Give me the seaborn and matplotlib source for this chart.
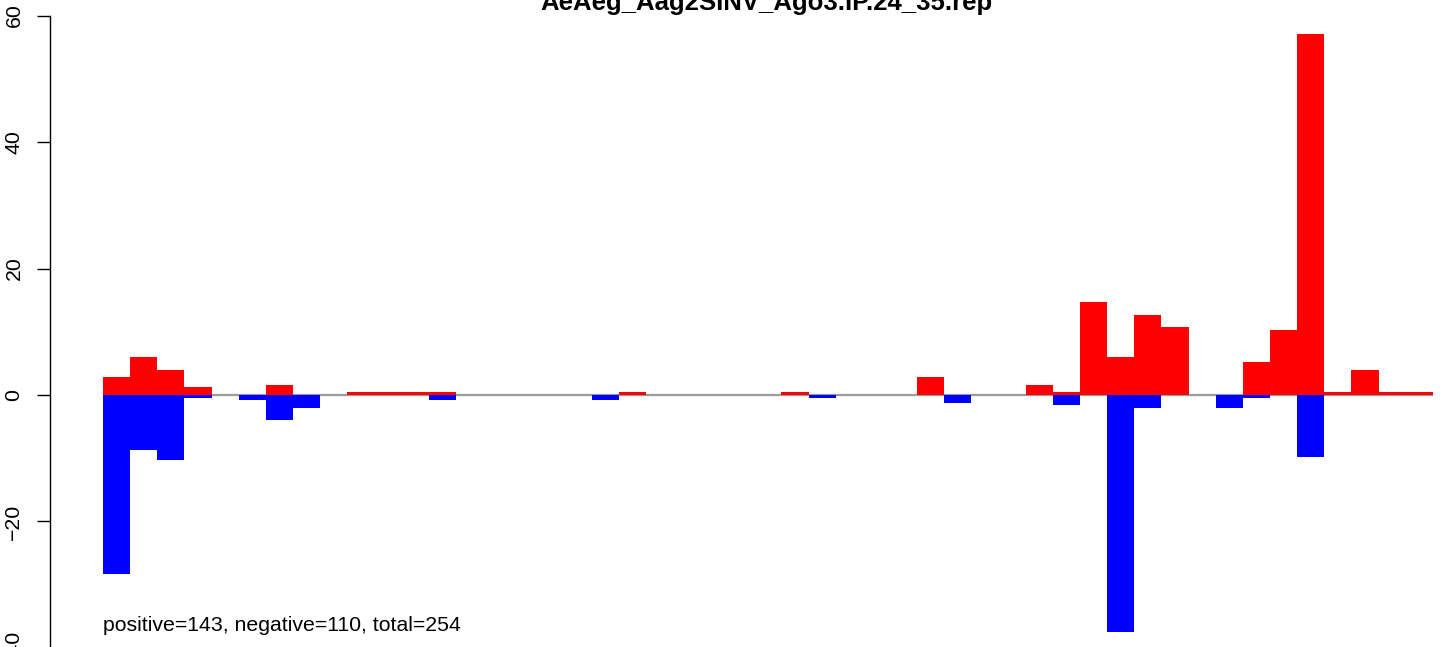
import pandas as pd
import matplotlib
matplotlib.use("Agg")
import matplotlib.pyplot as plt
import seaborn as sns

# per-position counts (one column per position)
title = "AeAeg_Aag2SINV_Ago3.IP.24_35.rep"
positions = list(range(49))
positive = [2.85, 6.0, 3.95, 1.26, 0, 0, 1.58, 0, 0, 0.45,
            0.45, 0.45, 0.45, 0, 0, 0, 0, 0, 0, 0.45,
            0, 0, 0, 0, 0, 0.45, 0, 0, 0, 0,
            2.85, 0, 0, 0, 1.58, 0.45, 14.7, 6.0, 12.65, 10.75,
            0, 0, 5.2, 10.3, 57.1, 0.45, 3.95, 0.45, 0.45]
negative = [-28.25, -8.7, -10.3, -0.5, 0, -0.8, -3.95, -2.05, 0, 0,
            0, 0, -0.8, 0, 0, 0, 0, 0, -0.8, 0,
            0, 0, 0, 0, 0, 0, -0.5, 0, 0, 0,
            0, -1.25, 0, 0, 0, -1.58, 0, -37.4, -2.05, 0,
            0, -2.05, -0.5, 0, -9.8, 0, 0, 0, 0]
yticks = [-40, -20, 0, 20, 40, 60]
ylabels = ["\u221240", "\u221220", "0", "20", "40", "60"]
note = "positive=143, negative=110, total=254"

df = pd.DataFrame({"pos": positions, "positive": positive, "negative": negative})

sns.set_style("ticks")
plt.rcParams["font.family"] = ["Liberation Sans", "DejaVu Sans"]
plt.rcParams["text.color"] = "black"
plt.rcParams["ytick.color"] = "black"
plt.rcParams["ytick.labelcolor"] = "black"

fig = plt.figure(figsize=(14.55, 6.47), dpi=100)
ax = fig.add_axes([0.03423, -0.0015, 0.9871, 0.9775])

ax.hlines(0, -0.5, len(positions) - 0.5, color="#9a9a9a", lw=1.6, zorder=0.5)
sns.barplot(data=df, x="pos", y="positive", color="#ff0000", width=1,
            saturation=1, linewidth=0, ax=ax, zorder=2)
sns.barplot(data=df, x="pos", y="negative", color="#0000ff", width=1,
            saturation=1, linewidth=0, ax=ax, zorder=3)

ax.set_xlim(-2.46, 50.46)
ax.set_ylim(-40, 60)
ax.set_yticks(yticks)
ax.set_yticklabels(ylabels, rotation=90, va="center")
ax.tick_params(axis="y", length=9.5, width=1.0, pad=9.5, labelsize=15.3,
               color="black", labelcolor="black")
ax.set_xticks([])
ax.set_xlabel("")
ax.set_ylabel("")
for s in ["top", "right", "bottom"]:
    ax.spines[s].set_visible(False)
ax.spines["left"].set_linewidth(1.0)
ax.spines["left"].set_color("black")
ax.spines["left"].set_bounds(-40, 60)

ax.text(-0.5, -36.4, note, ha="left", va="center", fontsize=15.3, color="black")
fig.text(0.5265, 0.9845, title, ha="center", va="baseline",
         fontsize=18.5, fontweight="bold", color="black")

fig.savefig("out.png", dpi=100)
